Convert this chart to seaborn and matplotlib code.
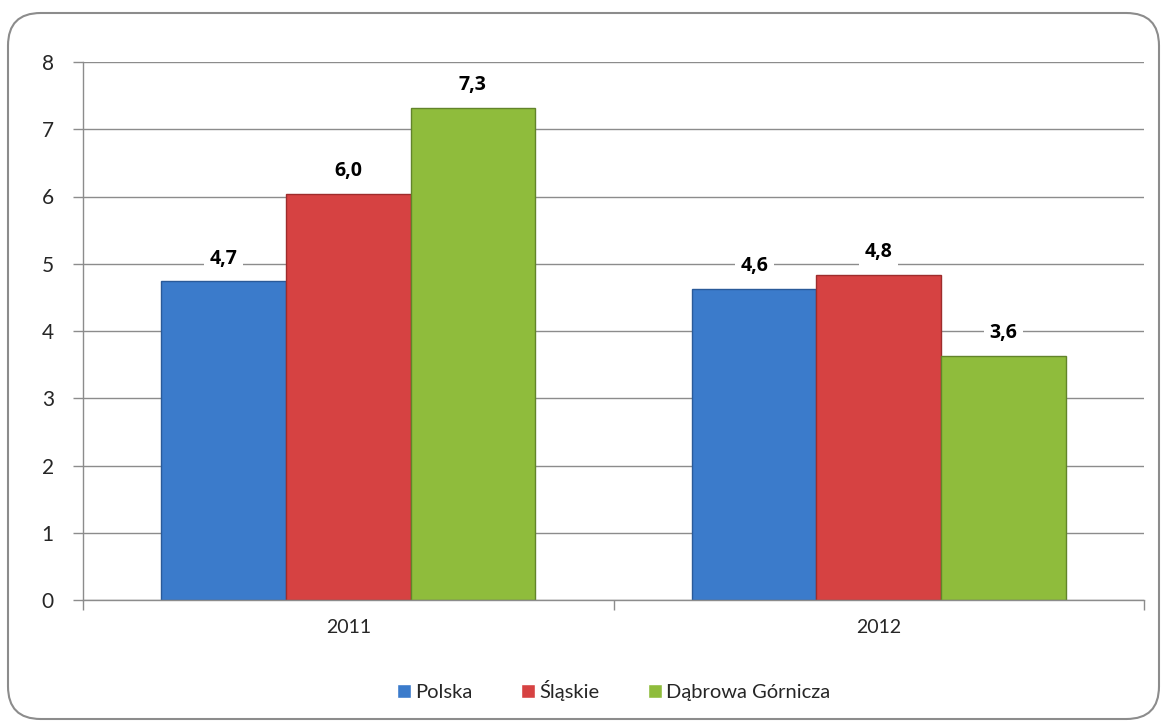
import pandas as pd
import seaborn as sns
import matplotlib.pyplot as plt
from matplotlib.patches import FancyBboxPatch

# -----------------------------
# DATA
# -----------------------------
years = ["2011", "2012"]
regions = ["Polska", "Śląskie", "Dąbrowa Górnicza"]
polska = [4.74, 4.63]
slaskie = [6.04, 4.84]
dabrowa = [7.32, 3.63]
y_ticks = [0, 1, 2, 3, 4, 5, 6, 7, 8]

colors = ["#3B7BCB", "#D64242", "#8FBC3C"]
edges = ["#2A5A99", "#9E2C2C", "#62842A"]

rows = []
for name, vals in zip(regions, [polska, slaskie, dabrowa]):
    for yr, v in zip(years, vals):
        rows.append({"rok": yr, "region": name, "value": v})
df = pd.DataFrame(rows)

# -----------------------------
# PLOT
# -----------------------------
sns.set_theme(style="white")
plt.rcParams["font.family"] = ["Lato", "DejaVu Sans"]

fig = plt.figure(figsize=(11.67, 7.24), dpi=100)
ax = fig.add_axes([83 / 1167, 124 / 724, 1061 / 1167, 538 / 724])

sns.barplot(data=df, x="rok", y="value", hue="region", palette=colors,
            saturation=1, width=0.705, gap=0, ax=ax, legend=True)

for i, container in enumerate(ax.containers):
    for bar in container:
        bar.set_edgecolor(edges[i])
        bar.set_linewidth(1.0)
    ax.bar_label(container, labels=[f"{b.get_height():.1f}".replace(".", ",") for b in container],
                 padding=9, fontsize=14, fontweight="bold", color="black",
                 family=["Open Sans", "DejaVu Sans"],
                 bbox=dict(facecolor="white", edgecolor="none", pad=4))

ax.set_ylim(0, 8)
ax.set_xlim(-0.5, 1.5)
ax.set_yticks(y_ticks)
ax.yaxis.grid(True, color="#8C8C8C", linewidth=1.0)
ax.set_axisbelow(True)
ax.set_xlabel("")
ax.set_ylabel("")

for s in ["top", "right"]:
    ax.spines[s].set_visible(False)
for s in ["left", "bottom"]:
    ax.spines[s].set_color("#8C8C8C")
    ax.spines[s].set_linewidth(1.0)

ax.tick_params(axis="y", length=7, width=1, color="#8C8C8C", labelsize=15, pad=14, left=True)
ax.tick_params(axis="x", length=0, labelsize=14, pad=14)
ax.set_xticks([-0.5, 0.5, 1.5], minor=True)
ax.tick_params(axis="x", which="minor", length=7, width=1, color="#8C8C8C", bottom=True)

leg = ax.legend(loc="center", bbox_to_anchor=(0.5, -0.168), ncol=3, frameon=False,
                fontsize=14.5, handlelength=0.7, handleheight=0.7, handletextpad=0.2,
                columnspacing=2.4)

# rounded frame
frame = FancyBboxPatch((8 / 1167, 5 / 724), 1151 / 1167, 706 / 724,
                       boxstyle="round,pad=0,rounding_size=0.028",
                       transform=fig.transFigure, facecolor="none",
                       edgecolor="#8C8C8C", linewidth=1.5, mutation_aspect=1167 / 724)
fig.patches.append(frame)

fig.savefig("out.png", dpi=100)
